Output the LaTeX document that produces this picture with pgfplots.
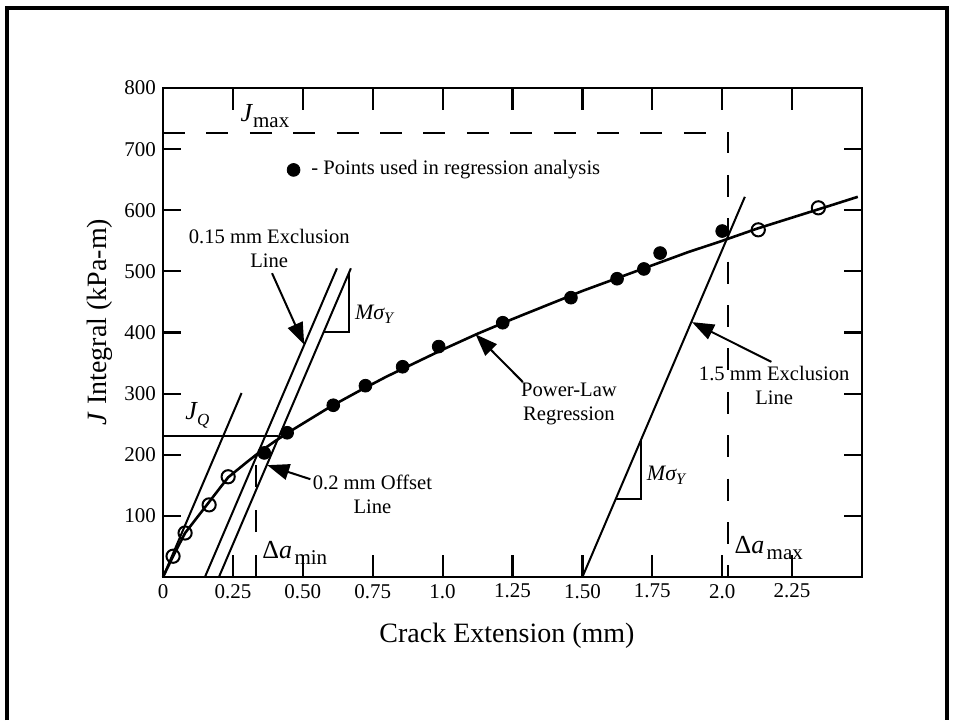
\documentclass[border=0pt]{standalone}
\usepackage{fontspec}
\setmainfont{Liberation Serif}
\usepackage{pgfplots}
\pgfplotsset{compat=1.18}
\usetikzlibrary{arrows.meta}
\begin{document}
\begin{tikzpicture}
\path[use as bounding box] (0pt,0pt) rectangle (476.5pt,360pt);
\draw[line width=2pt] (3.5pt,0pt) -- (3.5pt,356pt) -- (473.5pt,356pt) -- (473.5pt,0pt);
\begin{axis}[
  at={(81.5pt,71.5pt)}, anchor=south west,
  scale only axis, width=349.5pt, height=244.5pt,
  xmin=0, xmax=2.5, ymin=0, ymax=800,
  clip=false,
  axis line style={line width=1.3pt},
  tick style={line width=1.1pt, black},
  xtick style={/pgfplots/major tick length=11pt},
  ytick style={/pgfplots/major tick length=9pt},
  xtick={0,0.25,0.5,0.75,1,1.25,1.5,1.75,2,2.25},
  xticklabels={0,0.25,0.50,0.75,1.0,1.25,1.50,1.75,2.0,2.25},
  ytick={100,200,300,400,500,600,700,800},
  yticklabels={100,200,300,400,500,600,700,800},
  /pgf/number format/assume math mode=true,
  tick label style={font=\fontsize{10.5}{12}\selectfont},
  xlabel={Crack Extension (mm)},
  ylabel={\textit{J} Integral (kPa-m)},
  every axis x label/.style={at={(axis description cs:0.4921,-0.1207)}, anchor=center, font=\fontsize{14}{16}\selectfont},
  every axis y label/.style={at={(axis description cs:-0.0901,0.5215)}, anchor=center, rotate=90, font=\fontsize{14}{16}\selectfont},
]
% power-law regression curve (with initial open-point segment)
\addplot[line width=1.3pt] coordinates {(0,0) (0.036,34) (0.079,72) (0.233,163) (0.3,188) (0.35,206) (0.4,222) (0.45,237) (0.5,251) (0.6,279) (0.7,304) (0.8,328) (0.9,350) (1.0,372) (1.125,398) (1.25,422) (1.375,445) (1.5,468) (1.625,489) (1.75,510) (1.875,531) (2.0,550) (2.125,570) (2.25,588) (2.375,606) (2.485,622)};
% blunting line
\addplot[line width=1pt] coordinates {(0,0) (0.281,301)};
% 0.15 mm exclusion line
\addplot[line width=1pt] coordinates {(0.15,0) (0.622,505)};
% 0.2 mm offset line
\addplot[line width=1pt] coordinates {(0.2,0) (0.672,505)};
% 1.5 mm exclusion line
\addplot[line width=1pt] coordinates {(1.5,0) (2.081,622)};
% J_Q line
\addplot[line width=1pt] coordinates {(0,231) (0.413,231)};
% slope triangles
\addplot[line width=1pt] coordinates {(0.575,401) (0.665,401) (0.665,497.6)};
\addplot[line width=1pt] coordinates {(1.62,128) (1.71,128) (1.71,224.7)};
% J_max / Delta a_max dashed
\addplot[line width=1pt, dash pattern=on 11pt off 10.7pt] coordinates {(0,727) (2.022,727) (2.022,0)};
% Delta a_min dashed
\addplot[line width=1pt, dash pattern=on 11pt off 11.5pt] coordinates {(0.333,0) (0.333,188)};
% open points
\addplot[only marks, mark=o, mark size=3.3pt, mark options={line width=1pt, fill=white}] coordinates {(0.036,34) (0.079,72) (0.165,118) (0.233,164) (2.129,568) (2.344,604)};
% filled points used in regression
\addplot[only marks, mark=*, mark size=3.2pt] coordinates {(0.362,203) (0.444,236) (0.609,281) (0.724,313) (0.857,344) (0.986,377) (1.215,416) (1.459,457) (1.624,488) (1.72,504) (1.778,530) (2.0,566)};
% legend dot
\addplot[only marks, mark=*, mark size=3.2pt] coordinates {(0.467,666)};
\node[anchor=west, inner sep=0pt, font=\fontsize{10.3}{12}\selectfont] at (axis cs:0.529,666) {- Points used in regression analysis};
% arrows
\draw[line width=1pt, -{Triangle[length=11pt,width=8pt]}] (axis cs:0.39,497) -- (axis cs:0.505,380);
\draw[line width=1pt, -{Triangle[length=11pt,width=8pt]}] (axis cs:0.527,160) -- (axis cs:0.373,183);
\draw[line width=1pt, -{Triangle[length=11pt,width=8pt]}] (axis cs:1.287,319) -- (axis cs:1.118,397);
\draw[line width=1pt, -{Triangle[length=11pt,width=8pt]}] (axis cs:2.176,352) -- (axis cs:1.892,417);
% text labels
\node[align=center, font=\fontsize{10.3}{12}\selectfont] at (axis cs:0.38,538) {0.15 mm Exclusion\\Line};
\node[align=center, font=\fontsize{10.3}{12}\selectfont] at (axis cs:0.749,136) {0.2 mm Offset\\Line};
\node[align=center, font=\fontsize{10.3}{12}\selectfont] at (axis cs:1.452,283) {Power-Law\\Regression};
\node[align=center, font=\fontsize{10.3}{12}\selectfont] at (axis cs:2.186,314) {1.5 mm Exclusion\\Line};
\node[font=\fontsize{11}{12}\selectfont] at (axis cs:0.755,430) {\itshape Mσ\raisebox{-2pt}{\fontsize{8}{8}\selectfont Y}};
\node[font=\fontsize{11}{12}\selectfont] at (axis cs:1.799,167) {\itshape Mσ\raisebox{-2pt}{\fontsize{8}{8}\selectfont Y}};
\node[anchor=base west, inner sep=0pt] at (axis cs:0.276,745) {{\fontsize{13}{13}\selectfont\itshape J}\kern0.5pt\raisebox{-3pt}{\fontsize{10.5}{10}\selectfont max}};
\node[anchor=base west, inner sep=0pt] at (axis cs:0.079,257) {{\fontsize{13}{13}\selectfont\itshape J}\raisebox{-3pt}{\fontsize{8.5}{8}\selectfont\itshape Q}};
\node[anchor=base west, inner sep=0pt] at (axis cs:0.354,31) {{\fontsize{13}{13}\selectfont Δ\itshape a}\kern1.2pt\raisebox{-3pt}{\fontsize{10.5}{10}\selectfont min}};
\node[anchor=base west, inner sep=0pt] at (axis cs:2.043,39) {{\fontsize{13}{13}\selectfont Δ\itshape a}\kern1.2pt\raisebox{-3pt}{\fontsize{10.5}{10}\selectfont max}};
\end{axis}
\end{tikzpicture}
\end{document}
